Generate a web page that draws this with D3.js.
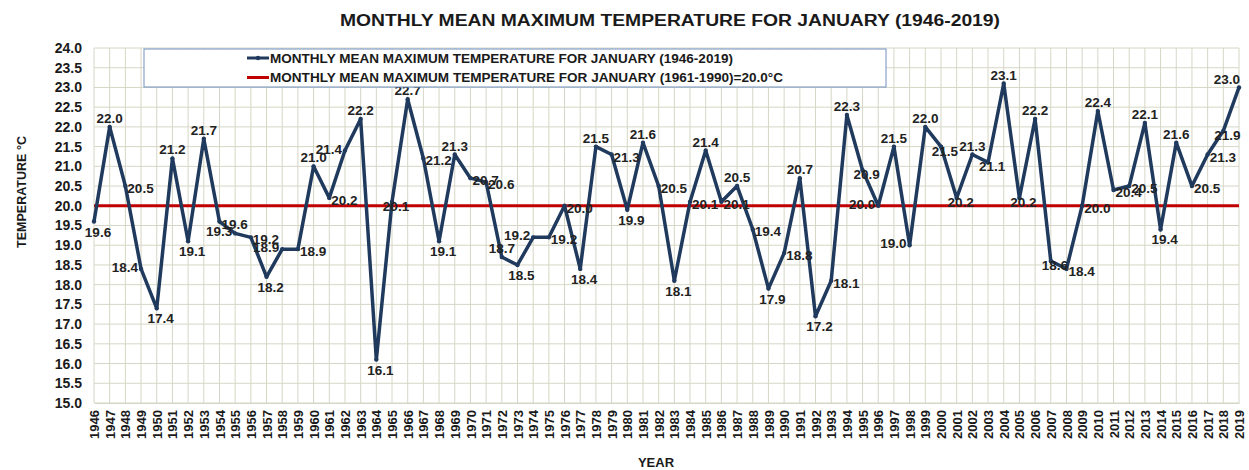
<!DOCTYPE html>
<html>
<head>
<meta charset="utf-8">
<script src="https://cdn.jsdelivr.net/npm/d3@7"></script>
<style>
  body { margin: 0; background: #fff; }
  svg { display: block; font-family: "Liberation Sans", Arial, sans-serif; }
</style>
</head>
<body>
<div id="chart"></div>
<script>
// Data

const years = [1946, 1947, 1948, 1949, 1950, 1951, 1952, 1953, 1954, 1955,
    1956, 1957, 1958, 1959, 1960, 1961, 1962, 1963, 1964, 1965,
    1966, 1967, 1968, 1969, 1970, 1971, 1972, 1973, 1974, 1975,
    1976, 1977, 1978, 1979, 1980, 1981, 1982, 1983, 1984, 1985,
    1986, 1987, 1988, 1989, 1990, 1991, 1992, 1993, 1994, 1995,
    1996, 1997, 1998, 1999, 2000, 2001, 2002, 2003, 2004, 2005,
    2006, 2007, 2008, 2009, 2010, 2011, 2012, 2013, 2014, 2015,
    2016, 2017, 2018, 2019];

const tmax = [19.6, 22.0, 20.5, 18.4, 17.4, 21.2, 19.1, 21.7, 19.6, 19.3,
    19.2, 18.2, 18.9, 18.9, 21.0, 20.2, 21.4, 22.2, 16.1, 20.1,
    22.7, 21.2, 19.1, 21.3, 20.7, 20.6, 18.7, 18.5, 19.2, 19.2,
    20.0, 18.4, 21.5, 21.3, 19.9, 21.6, 20.5, 18.1, 20.1, 21.4,
    20.1, 20.5, 19.4, 17.9, 18.8, 20.7, 17.2, 18.1, 22.3, 20.9,
    20.0, 21.5, 19.0, 22.0, 21.5, 20.2, 21.3, 21.1, 23.1, 20.2,
    22.2, 18.6, 18.4, 20.0, 22.4, 20.4, 20.5, 22.1, 19.4, 21.6,
    20.5, 21.3, 21.9, 23.0];

const normal = 20.0;

const yTicks = [15.0, 15.5, 16.0, 16.5, 17.0, 17.5, 18.0, 18.5, 19.0, 19.5,
    20.0, 20.5, 21.0, 21.5, 22.0, 22.5, 23.0, 23.5, 24.0];

const title = "MONTHLY MEAN MAXIMUM  TEMPERATURE FOR JANUARY (1946-2019)";
const legendLabels = [
    "MONTHLY MEAN MAXIMUM TEMPERATURE FOR JANUARY (1946-2019)",
    "MONTHLY MEAN MAXIMUM TEMPERATURE FOR JANUARY (1961-1990)=20.0°C"
];

// Where each data label sits relative to its point (t top, b bottom, r right, l left, c centre, tl top-left)
const labelPlace = ["b", "t", "r", "l", "b", "t", "b", "t", "r", "l",
    "r", "b", "l", "r", "t", "r", "l", "t", "b", "c",
    "t", "r", "b", "t", "r", "r", "t", "b", "l", "r",
    "r", "b", "t", "r", "b", "t", "r", "b", "r", "t",
    "r", "t", "r", "b", "r", "t", "b", "r", "t", "c",
    "l", "t", "l", "t", "c", "c", "t", "c", "t", "c",
    "t", "c", "r", "r", "t", "r", "r", "t", "b", "t",
    "r", "r", "c", "tl"];

// Configure

const width = 1249, height = 470;
const plot = { left: 94, right: 1239, top: 48, bottom: 403 };
const colors = { line: "#203a5e", normal: "#c00000", grid: "#d6d6c6", text: "#1a1a1a" };

const svg = d3.select("#chart").append("svg")
    .attr("width", width)
    .attr("height", height);

const x = d3.scalePoint().domain(years).range([plot.left, plot.right]);
const y = d3.scaleLinear().domain([15, 24]).range([plot.bottom, plot.top]);

// Grid

svg.append("g")
    .selectAll("line")
    .data(yTicks)
    .join("line")
    .attr("x1", plot.left).attr("x2", plot.right)
    .attr("y1", d => y(d)).attr("y2", d => y(d))
    .attr("stroke", colors.grid).attr("stroke-width", 1);

svg.append("g")
    .selectAll("line")
    .data(years)
    .join("line")
    .attr("x1", d => x(d)).attr("x2", d => x(d))
    .attr("y1", plot.top).attr("y2", plot.bottom)
    .attr("stroke", colors.grid).attr("stroke-width", 1);

// Axes

const yAxis = d3.axisLeft(y).tickValues(yTicks).tickFormat(d3.format(".1f")).tickSize(0).tickPadding(12);
svg.append("g")
    .attr("transform", `translate(${plot.left},0)`)
    .call(yAxis)
    .call(g => g.select(".domain").remove())
    .selectAll("text")
    .attr("font-size", 14).attr("font-weight", "bold").attr("fill", colors.text)
    .attr("font-family", "Liberation Sans, Arial, sans-serif");

const xAxis = d3.axisBottom(x).tickSize(0).tickPadding(0);
svg.append("g")
    .attr("transform", `translate(0,${plot.bottom})`)
    .call(xAxis)
    .call(g => g.select(".domain").attr("stroke", colors.grid))
    .selectAll("text")
    .attr("font-size", 13).attr("font-weight", "bold").attr("fill", colors.text)
    .attr("font-family", "Liberation Sans, Arial, sans-serif")
    .attr("transform", "rotate(-90)")
    .attr("text-anchor", "end")
    .attr("x", -7).attr("y", 0).attr("dy", "0.35em");

// Normal line

svg.append("line")
    .attr("x1", plot.left).attr("x2", plot.right)
    .attr("y1", y(normal)).attr("y2", y(normal))
    .attr("stroke", colors.normal).attr("stroke-width", 3);

// Series line

const rows = years.map((yr, i) => ({ year: yr, value: tmax[i], place: labelPlace[i] }));

const line = d3.line()
    .x(d => x(d.year))
    .y(d => y(d.value));

svg.append("path")
    .attr("d", line(rows))
    .attr("fill", "none")
    .attr("stroke", colors.line)
    .attr("stroke-width", 3.5)
    .attr("stroke-linejoin", "round");

svg.append("g")
    .selectAll("circle")
    .data(rows)
    .join("circle")
    .attr("cx", d => x(d.year)).attr("cy", d => y(d.value))
    .attr("r", 2.2)
    .attr("fill", colors.line);

// Data labels

svg.append("g")
    .selectAll("text")
    .data(rows)
    .join("text")
    .attr("font-size", 13.5).attr("font-weight", "bold").attr("fill", "#222")
    .each(function (d) {
        const t = d3.select(this);
        const px = x(d.year), py = y(d.value);
        switch (d.place) {
            case "t": t.attr("x", px).attr("y", py - 4).attr("text-anchor", "middle"); break;
            case "b": t.attr("x", px + 4).attr("y", py + 15).attr("text-anchor", "middle"); break;
            case "l": t.attr("x", px - 3).attr("y", py + 3).attr("text-anchor", "end"); break;
            case "c": t.attr("x", px + 4).attr("y", py + 9).attr("text-anchor", "middle"); break;
            case "tl": t.attr("x", px + 1).attr("y", py - 3).attr("text-anchor", "end"); break;
            default: t.attr("x", px + 2).attr("y", py + 7).attr("text-anchor", "start");
        }
    })
    .text(d => d.value.toFixed(1));

// Legend

const legend = svg.append("g");
legend.append("rect")
    .attr("x", 144).attr("y", 49).attr("width", 742).attr("height", 38)
    .attr("fill", "#fff").attr("stroke", "#6f8fc0").attr("stroke-width", 1);

[colors.line, colors.normal].forEach((c, i) => {
    const ly = 58 + i * 19.5;
    legend.append("line")
        .attr("x1", 247).attr("x2", 269).attr("y1", ly).attr("y2", ly)
        .attr("stroke", c).attr("stroke-width", 3);
    if (i === 0) {
        legend.append("circle").attr("cx", 258).attr("cy", ly).attr("r", 2.2).attr("fill", c);
    }
    legend.append("text")
        .attr("x", 270).attr("y", ly + 4.5)
        .attr("font-size", 12).attr("font-weight", "bold").attr("fill", colors.text)
        .attr("textLength", i === 0 ? 463 : 513).attr("lengthAdjust", "spacingAndGlyphs")
        .text(legendLabels[i]);
});

// Titles

svg.append("text")
    .attr("x", 670).attr("y", 26)
    .attr("text-anchor", "middle")
    .attr("font-size", 16).attr("font-weight", "bold").attr("fill", colors.text)
    .attr("textLength", 660).attr("lengthAdjust", "spacingAndGlyphs")
    .text(title);

svg.append("text")
    .attr("transform", `translate(26,192) rotate(-90)`)
    .attr("text-anchor", "middle")
    .attr("font-size", 13).attr("font-weight", "bold").attr("fill", colors.text)
    .attr("textLength", 112).attr("lengthAdjust", "spacingAndGlyphs")
    .text("TEMPERATURE  °C");

svg.append("text")
    .attr("x", 656).attr("y", 467)
    .attr("text-anchor", "middle")
    .attr("font-size", 13).attr("font-weight", "bold").attr("fill", colors.text)
    .text("YEAR");
</script>
</body>
</html>
